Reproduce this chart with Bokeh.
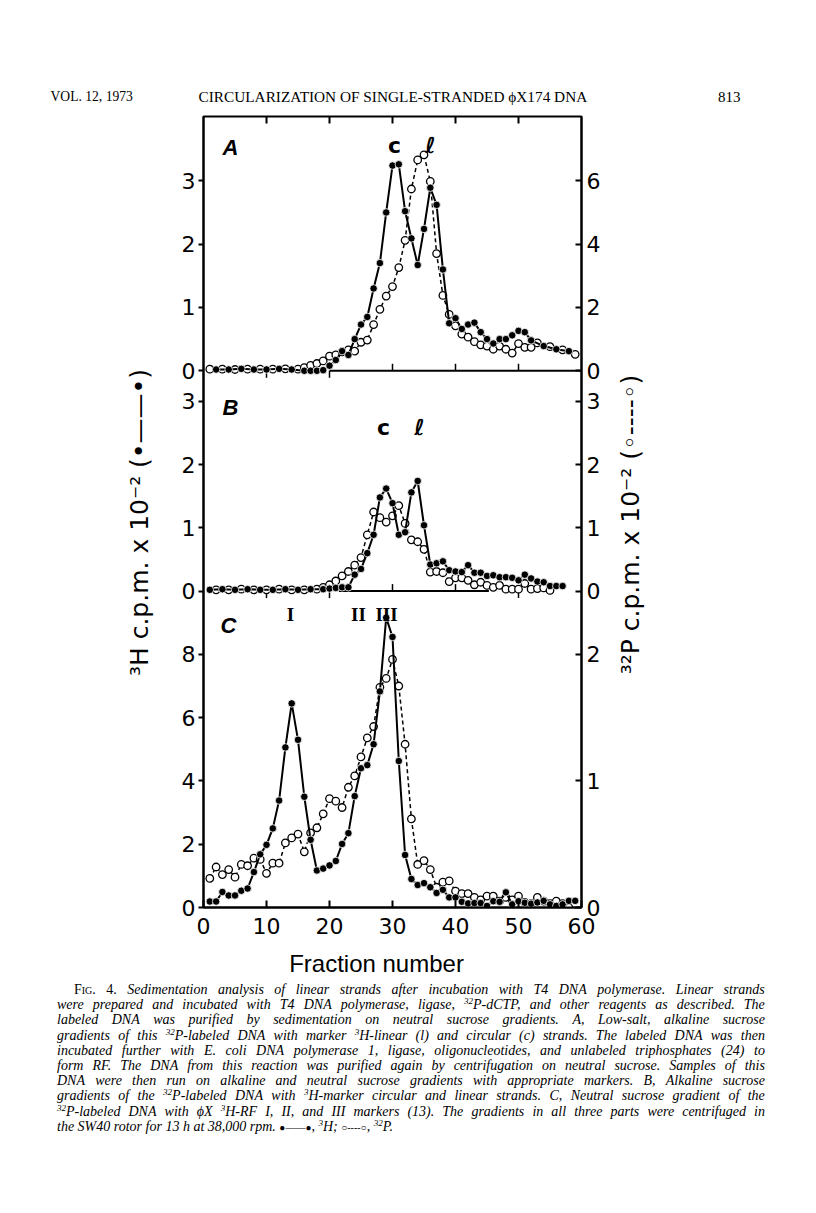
import math
from bokeh.plotting import figure
from bokeh.models import Range1d, LinearAxis, FixedTicker, Label, Div
from bokeh.layouts import column, row
from bokeh.embed import file_html
from bokeh.resources import INLINE

# ------------------------------------------------------------------ data
frac_ticks = [0, 10, 20, 30, 40, 50, 60]

# Panel A : 3H (filled, left axis) and 32P (open, right axis)
a_h_frac = [2, 4, 6, 8, 10, 12, 14, 16, 17, 18, 19, 20, 21, 22, 23, 24, 25, 26, 27, 28, 29, 30,
            31, 32, 33, 34, 35, 36, 37, 38, 39, 40, 41, 42, 43, 44, 45, 46, 47, 48, 49, 50,
            51, 52, 54, 56, 58]
a_h_cpm = [0.02, 0.02, 0.03, 0.02, 0.02, 0.03, 0.02, 0.0, 0.0, 0.0, 0.01, 0.08, 0.17, 0.31, 0.25,
           0.5, 0.73, 0.85, 1.3, 1.7, 2.5, 3.24, 3.26, 2.52, 2.09, 1.67, 2.24, 2.89, 2.62, 1.6,
           0.75, 0.83, 0.66, 0.73, 0.76, 0.61, 0.5, 0.43, 0.5, 0.5, 0.56, 0.63, 0.61, 0.48,
           0.39, 0.34, 0.31]
a_p_frac = [1, 3, 5, 7, 9, 11, 13, 15, 16, 17, 18, 19, 20, 21, 22, 23, 24, 25, 26, 27, 28, 29,
            30, 31, 32, 33, 34, 35, 36, 37, 38, 39, 40, 41, 42, 43, 44, 45, 46, 47, 48, 49,
            50, 51, 52, 53, 55, 57, 59]
a_p_cpm = [0.05, 0.05, 0.04, 0.05, 0.05, 0.05, 0.06, 0.05, 0.1, 0.17, 0.23, 0.31, 0.46, 0.5,
           0.6, 0.66, 0.62, 0.9, 0.97, 1.46, 1.94, 2.36, 2.66, 3.26, 4.12, 5.74, 6.66, 6.82,
           5.98, 3.7, 2.38, 1.78, 1.42, 1.16, 1.06, 0.92, 0.82, 0.78, 0.68, 0.78, 0.68, 0.56,
           0.86, 0.74, 0.74, 0.88, 0.76, 0.66, 0.52]

# Panel B
b_h_frac = [1, 3, 5, 7, 9, 11, 13, 15, 17, 19, 20, 21, 22, 23, 24, 25, 26, 27, 28, 29, 30, 31,
            32, 33, 34, 35, 36, 37, 38, 39, 40, 41, 42, 43, 44, 45, 46, 47, 48, 49, 50, 51,
            52, 53, 54, 55, 56, 57]
b_h_cpm = [0.02, 0.03, 0.02, 0.03, 0.02, 0.02, 0.03, 0.02, 0.03, 0.03, 0.04, 0.05, 0.06, 0.06,
           0.26, 0.35, 0.6, 0.89, 1.48, 1.62, 1.39, 0.89, 0.93, 1.56, 1.74, 1.04, 0.42, 0.44,
           0.47, 0.33, 0.31, 0.3, 0.41, 0.29, 0.29, 0.24, 0.25, 0.22, 0.22, 0.21, 0.17, 0.26,
           0.2, 0.15, 0.14, 0.08, 0.08, 0.08]
b_p_frac = [2, 4, 6, 8, 10, 12, 14, 16, 18, 19, 20, 21, 22, 23, 24, 25, 26, 27, 28, 29, 30, 31,
            32, 33, 34, 35, 36, 37, 38, 39, 40, 41, 42, 43, 44, 45, 46, 47, 48, 49, 50, 51,
            52, 53, 54, 55]
b_p_cpm = [0.02, 0.02, 0.03, 0.02, 0.02, 0.03, 0.02, 0.02, 0.03, 0.06, 0.1, 0.16, 0.24, 0.31,
           0.41, 0.53, 0.89, 1.25, 1.16, 1.09, 1.19, 1.35, 1.07, 0.81, 0.78, 0.66, 0.3, 0.31,
           0.29, 0.15, 0.21, 0.21, 0.17, 0.1, 0.14, 0.09, 0.06, 0.09, 0.03, 0.03, 0.03, 0.12,
           0.03, 0.04, 0.05, 0.01]

# Panel C
c_h_frac = [1, 2, 3, 4, 5, 6, 7, 8, 9, 10, 11, 12, 13, 14, 15, 16, 17, 18, 19, 20, 21, 22, 23,
            24, 25, 26, 27, 28, 29, 30, 31, 32, 33, 34, 35, 36, 37, 38, 39, 40, 41, 42, 43, 44,
            45, 46, 47, 48, 49, 50, 51, 52, 53, 54, 55, 56, 57, 58, 59]
c_h_cpm = [0.19, 0.19, 0.49, 0.38, 0.38, 0.53, 0.6, 1.12, 1.68, 1.98,
           2.5, 3.38, 5.06, 6.45, 5.3, 3.5, 2.14, 1.17, 1.23, 1.33,
           1.47, 2.01, 2.35, 3.52, 4.4, 4.5, 5.16, 6.83, 9.16, 8.55,
           4.63, 1.66, 0.9, 0.71, 0.77, 0.64, 0.46, 0.56, 0.32, 0.32,
           0.18, 0.13, 0.14, 0.14, 0.05, 0.2, 0.18, 0.48, 0.1, 0.2,
           0.15, 0.12, 0.16, 0.21, 0.1, 0.05, 0.1, 0.21, 0.21]
c_p_frac = [1, 2, 3, 4, 5, 6, 7, 8, 9, 10, 11, 12, 13, 14, 15, 16, 17, 18, 19, 20, 21, 22, 23,
            24, 25, 26, 27, 28, 29, 30, 31, 32, 33, 34, 35, 36, 37, 38, 39, 40, 41, 42, 43, 44,
            45, 46, 47, 48, 49, 50, 51, 52, 53, 54, 55, 56, 57, 58]
c_p_cpm = [0.23, 0.32, 0.26, 0.30, 0.24, 0.34, 0.33, 0.39, 0.38, 0.27,
           0.35, 0.35, 0.51, 0.55, 0.58, 0.44, 0.59, 0.63, 0.74, 0.86,
           0.84, 0.79, 0.95, 1.04, 1.19, 1.34, 1.43, 1.74, 1.81, 1.96,
           1.75, 1.29, 0.70, 0.34, 0.37, 0.30, 0.16, 0.20, 0.21, 0.13,
           0.11, 0.11, 0.08, 0.06, 0.09, 0.09, 0.05, 0.08, 0.06, 0.09,
           0.04, 0.03, 0.08, 0.05, 0.03, 0.05, 0.03, 0.0]

# axis tick labels per panel
a_left_ticks = [0, 1, 2, 3]
a_right_ticks = [0, 2, 4, 6]
b_left_ticks = [0, 1, 2, 3]
b_right_ticks = [0, 1, 2, 3]
c_left_ticks = [0, 2, 4, 6, 8]
c_right_ticks = [0, 1, 2]

# ------------------------------------------------------------------ page layout (px)
PAGE_W = 800
HEAD_BOTTOM = 120                     # header strip: page y 8 .. 120
FL, FR, FT, FB = 211, 589, 124, 915  # plot frame edges on the page
MAIN_L, MAIN_R, MAIN_BOTTOM = 171, 619, 953
XLAB_BOTTOM = 987                     # "Fraction number" strip
FW, FH = FR - FL, FB - FT

C_LEFT = (0.0, 25.0)
C_RIGHT = (0.0, 6.25)
B_RNG = (-5.0, 7.5)
A_LEFT = (-8.475, 4.015)
A_RIGHT = (-16.95, 8.03)


def strip(w, h):
    f = figure(width=w, height=h, x_range=Range1d(0, w), y_range=Range1d(0, h),
               output_backend="svg", toolbar_location=None,
               x_axis_location=None, y_axis_location=None, min_border=0)
    f.xgrid.visible = False
    f.ygrid.visible = False
    f.outline_line_color = None
    f.background_fill_color = "white"
    f.border_fill_color = "white"
    return f


def add_label(fig, x0, y0, text, px, py, size, font="Liberation Sans", style="normal",
              align="left", baseline="alphabetic", angle=0.0):
    """x0: page x of the figure frame's left edge, y0: page y of its bottom edge."""
    fig.add_layout(Label(x=px - x0, y=y0 - py, x_units="screen", y_units="screen",
                         text=text, text_font=font, text_font_size=f"{size}px",
                         text_font_style=style, text_align=align,
                         text_baseline=baseline, angle=angle, text_color="black"))


# ---------------- main plot
p = figure(width=MAIN_R - MAIN_L, height=MAIN_BOTTOM - HEAD_BOTTOM,
           frame_width=FW, frame_height=FH,
           x_range=Range1d(0, 60), y_range=Range1d(*C_LEFT),
           output_backend="svg", toolbar_location=None,
           x_axis_location=None, y_axis_location=None,
           min_border_left=FL - MAIN_L, min_border_right=MAIN_R - FR,
           min_border_top=FT - HEAD_BOTTOM, min_border_bottom=MAIN_BOTTOM - FB)
p.extra_y_ranges = {"A": Range1d(*A_LEFT), "Ar": Range1d(*A_RIGHT),
                    "B": Range1d(*B_RNG), "Cr": Range1d(*C_RIGHT)}
p.xgrid.visible = False
p.ygrid.visible = False
p.outline_line_color = "black"
p.outline_line_width = 2
p.background_fill_color = "white"
p.border_fill_color = "white"


def to_primary(v, rng):
    lo, hi = rng
    return round(C_LEFT[0] + (v - lo) / (hi - lo) * (C_LEFT[1] - C_LEFT[0]), 6)


def style_axis(ax, tin, tout, standoff, size="22px"):
    ax.axis_line_width = 2
    ax.axis_line_color = "black"
    ax.major_tick_line_width = 2
    ax.major_tick_line_color = "black"
    ax.major_tick_in = tin
    ax.major_tick_out = tout
    ax.minor_tick_line_color = None
    ax.major_label_text_font = "DejaVu Sans"
    ax.major_label_text_font_size = size
    ax.major_label_text_color = "black"
    ax.major_label_standoff = standoff


left_pos, left_over = [], {}
for ticks, rng in [(c_left_ticks, C_LEFT), (b_left_ticks, B_RNG), (a_left_ticks, A_LEFT)]:
    for t in ticks:
        pos = to_primary(t, rng)
        left_pos.append(pos)
        left_over[pos] = str(t)
right_pos, right_over = [], {}
for ticks, rng in [(c_right_ticks, C_RIGHT), (b_right_ticks, B_RNG), (a_right_ticks, A_RIGHT)]:
    for t in ticks:
        pos = to_primary(t, rng)
        right_pos.append(pos)
        right_over[pos] = str(t)

ax_l = LinearAxis(ticker=FixedTicker(ticks=left_pos), major_label_overrides=left_over)
style_axis(ax_l, 0, 5, 3)
p.add_layout(ax_l, "left")
ax_r = LinearAxis(ticker=FixedTicker(ticks=right_pos), major_label_overrides=right_over)
style_axis(ax_r, 6, 0, 5)
p.add_layout(ax_r, "right")
ax_b = LinearAxis(ticker=FixedTicker(ticks=frac_ticks))
style_axis(ax_b, 7, 0, 10)
p.add_layout(ax_b, "below")

# inward ticks along the top edge and separators between the panels
TOP_TICKS = [10, 20, 30, 40, 50]
SEP_AB = (20, 60)
SEP_BC = (21.5, 45.3)
AB_DOWN, AB_UP = [10, 20], [30, 40, 50]
BC_DOWN, BC_UP = [10, 20, 50], [30, 40]
TICK_PX = 7
a_unit = (A_LEFT[1] - A_LEFT[0]) / FH * TICK_PX
b_unit = (B_RNG[1] - B_RNG[0]) / FH * TICK_PX

p.segment(x0=TOP_TICKS, y0=[A_LEFT[1]] * len(TOP_TICKS), x1=TOP_TICKS,
          y1=[A_LEFT[1] - a_unit] * len(TOP_TICKS), y_range_name="A",
          line_color="black", line_width=2)
p.segment(x0=[SEP_AB[0]], y0=[0], x1=[SEP_AB[1]], y1=[0], y_range_name="A",
          line_color="black", line_width=2)
p.segment(x0=AB_DOWN + AB_UP, y0=[0] * 5, x1=AB_DOWN + AB_UP,
          y1=[-a_unit] * len(AB_DOWN) + [a_unit] * len(AB_UP),
          y_range_name="A", line_color="black", line_width=1.5)
p.segment(x0=[SEP_BC[0]], y0=[0], x1=[SEP_BC[1]], y1=[0], y_range_name="B",
          line_color="black", line_width=2)
p.segment(x0=BC_DOWN + BC_UP, y0=[0] * 5, x1=BC_DOWN + BC_UP,
          y1=[-b_unit] * len(BC_DOWN) + [b_unit] * len(BC_UP),
          y_range_name="B", line_color="black", line_width=1.5)


def open_series(x, y, rname):
    p.line(x, y, y_range_name=rname, line_color="black", line_width=1.5, line_dash="4 3")
    p.scatter(x, y, y_range_name=rname, marker="circle", size=7.5,
              fill_color="white", line_color="black", line_width=1.3)


def filled_series(x, y, rname):
    kw = {} if rname is None else {"y_range_name": rname}
    p.line(x, y, line_color="black", line_width=2, **kw)
    p.scatter(x, y, marker="circle", size=7.5, fill_color="black",
              line_color="white", line_width=0.8, **kw)


open_series(a_p_frac, a_p_cpm, "Ar")
filled_series(a_h_frac, a_h_cpm, "A")
open_series(b_p_frac, b_p_cpm, "B")
filled_series(b_h_frac, b_h_cpm, "B")
open_series(c_p_frac, c_p_cpm, "Cr")
filled_series(c_h_frac, c_h_cpm, None)

# panel letters and peak markers (inside the frame)
add_label(p, FL, FB, "A", 230, 155, 22, style="bold italic")
add_label(p, FL, FB, "c", 402, 153, 22, font="DejaVu Sans", style="bold", align="center")
add_label(p, FL, FB, "\u2113", 438, 153, 22, font="DejaVu Sans", style="bold", align="center")
add_label(p, FL, FB, "B", 230, 415, 22, style="bold italic")
add_label(p, FL, FB, "c", 391, 435, 22, font="DejaVu Sans", style="bold", align="center")
add_label(p, FL, FB, "\u2113", 427, 435, 22, font="DejaVu Sans", style="bold", align="center")
add_label(p, FL, FB, "C", 228, 633, 22, style="bold italic")
add_label(p, FL, FB, "I", 298, 622, 19, font="Liberation Serif", style="bold", align="center")
add_label(p, FL, FB, "II", 366, 622, 19, font="Liberation Serif", style="bold", align="center")
add_label(p, FL, FB, "III", 394, 622, 19, font="Liberation Serif", style="bold", align="center")

# ---------------- side strips with the rotated axis titles
left_strip = strip(MAIN_L - 8, MAIN_BOTTOM - HEAD_BOTTOM)
add_label(left_strip, 8, MAIN_BOTTOM,
          "\u00b3H c.p.m. x 10\u207b\u00b2 (\u2022\u2014\u2014\u2022)", 147, 568, 25,
          font="DejaVu Sans", align="center", baseline="middle", angle=math.pi / 2)
right_strip = strip(8 + PAGE_W - MAIN_R, MAIN_BOTTOM - HEAD_BOTTOM)
add_label(right_strip, MAIN_R, MAIN_BOTTOM,
          "\u00b3\u00b2P c.p.m. x 10\u207b\u00b2 (\u25e6----\u25e6)", 638, 570, 25,
          font="DejaVu Sans", align="center", baseline="middle", angle=math.pi / 2)

# ---------------- header strip (running head)
head = strip(PAGE_W, HEAD_BOTTOM - 8)
add_label(head, 8, HEAD_BOTTOM, "VOL. 12, 1973", 58, 104, 13.6, font="Liberation Serif")
add_label(head, 8, HEAD_BOTTOM, "CIRCULARIZATION OF SINGLE-STRANDED \u03d5X174 DNA",
          206, 104, 15.3, font="Liberation Serif")
add_label(head, 8, HEAD_BOTTOM, "813", 748, 104, 15, font="Liberation Serif", align="right")

# ---------------- x-axis title strip
xlab = strip(PAGE_W, XLAB_BOTTOM - MAIN_BOTTOM)
add_label(xlab, 8, XLAB_BOTTOM, "Fraction number", 384, 971, 24, font="Liberation Sans",
          align="center", baseline="alphabetic")

# ------------------------------------------------------------------ caption
caption_lines = [
    "Fig. 4. Sedimentation analysis of linear strands after incubation with T4 DNA polymerase. Linear strands",
    "were prepared and incubated with T4 DNA polymerase, ligase, {32}P-dCTP, and other reagents as described. The",
    "labeled DNA was purified by sedimentation on neutral sucrose gradients. A, Low-salt, alkaline sucrose",
    "gradients of this {32}P-labeled DNA with marker {3}H-linear (l) and circular (c) strands. The labeled DNA was then",
    "incubated further with E. coli DNA polymerase 1, ligase, oligonucleotides, and unlabeled triphosphates (24) to",
    "form RF. The DNA from this reaction was purified again by centrifugation on neutral sucrose. Samples of this",
    "DNA were then run on alkaline and neutral sucrose gradients with appropriate markers. B, Alkaline sucrose",
    "gradients of the {32}P-labeled DNA with {3}H-marker circular and linear strands. C, Neutral sucrose gradient of the",
    "{32}P-labeled DNA with \u03d5X {3}H-RF I, II, and III markers (13). The gradients in all three parts were centrifuged in",
    "the SW40 rotor for 13 h at 38,000 rpm. \u25cf\u2014\u2014\u25cf, {3}H; \u25cb----\u25cb, {32}P.",
]
CAP_L, CAP_W, CAP_INDENT, CAP_LH, CAP_FS = 60, 708, 17, 15.2, 14


def fmt_token(tok):
    for sup in ("32", "3"):
        tok = tok.replace("{" + sup + "}",
                          "<span style='font-size:9px;vertical-align:5px;line-height:0'>"
                          + sup + "</span>")
    for sym in ("\u25cf\u2014\u2014\u25cf", "\u25cb----\u25cb"):
        tok = tok.replace(sym, "<span style='font-style:normal;font-size:10px'>" + sym + "</span>")
    return tok


rows = []
for i, line in enumerate(caption_lines):
    toks = line.split(" ")
    spans = []
    for j, t in enumerate(toks):
        s = fmt_token(t)
        if i == 0 and j == 0:
            s = "<span style='font-style:normal;font-variant:small-caps'>" + s + "</span>"
        elif i == 0 and j == 1:
            s = "<span style='font-style:normal'>" + s + "</span>"
        spans.append("<span style='white-space:nowrap'>" + s + "</span>")
    indent = CAP_INDENT if i == 0 else 0
    if i < len(caption_lines) - 1:
        rows.append(f"<div style='display:flex;justify-content:space-between;height:{CAP_LH}px;"
                    f"line-height:{CAP_LH}px;margin-left:{indent}px'>" + "".join(spans) + "</div>")
    else:
        rows.append(f"<div style='height:{CAP_LH}px;line-height:{CAP_LH}px;white-space:nowrap'>"
                    + " ".join(spans) + "</div>")

cap_html = (f"<div style=\"margin-left:{CAP_L - 8}px;width:{CAP_W}px;margin-top:-2px;"
            f"font-family:'Liberation Serif';font-style:italic;font-size:{CAP_FS}px;color:#000\">"
            + "".join(rows) + "</div>")
cap = Div(text=cap_html, width=PAGE_W, height=178)

layout = column(head, row(left_strip, p, right_strip), xlab, cap)
open("out.html", "w").write(file_html(layout, INLINE, title="Fig. 4"))
